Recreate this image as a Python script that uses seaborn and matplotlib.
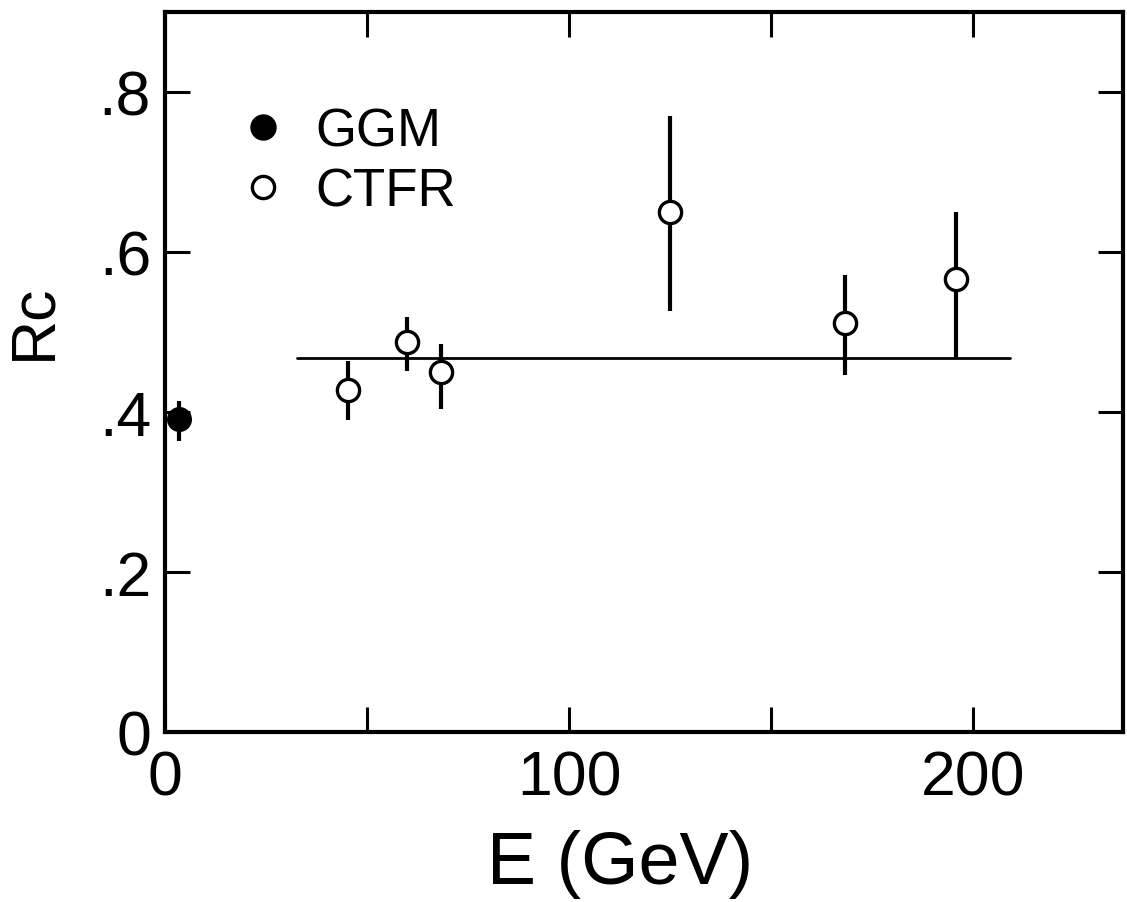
import numpy as np
import seaborn as sns
import matplotlib.pyplot as plt
from matplotlib.lines import Line2D

# GGM point
ggm_E = [3.5]
ggm_R = [0.391]
ggm_lo = [0.364]
ggm_hi = [0.414]

# CTFR points
ctfr_E = [45.3, 59.9, 68.3, 125.0, 168.3, 195.8]
ctfr_R = [0.428, 0.488, 0.450, 0.650, 0.511, 0.566]
ctfr_lo = [0.390, 0.451, 0.404, 0.526, 0.446, 0.468]
ctfr_hi = [0.464, 0.519, 0.485, 0.770, 0.571, 0.650]

# average line
fit_E = [32.7, 209.0]
fit_R = [0.468, 0.468]

xticks = [0, 50, 100, 150, 200]
xlabels = ['0', '', '100', '', '200']
yticks = [0, 0.2, 0.4, 0.6, 0.8]
ylabels = ['0', '.2', '.4', '.6', '.8']

sns.set_theme(style="ticks")
plt.rcParams['font.family'] = ['Liberation Sans', 'DejaVu Sans']
plt.rcParams['text.color'] = 'black'
plt.rcParams['axes.labelcolor'] = 'black'
plt.rcParams['xtick.labelcolor'] = 'black'
plt.rcParams['ytick.labelcolor'] = 'black'

fig = plt.figure(figsize=(11.27, 9.03), dpi=100)
ax = fig.add_axes([165 / 1127, 1 - 733 / 903, (1123 - 165) / 1127, (733 - 13) / 903])

# error bars
ax.vlines(ggm_E, ggm_lo, ggm_hi, color='black', lw=3, zorder=2)
ax.vlines(ctfr_E, ctfr_lo, ctfr_hi, color='black', lw=3, zorder=2)

# average line
sns.lineplot(x=fit_E, y=fit_R, color='black', lw=2, ax=ax, zorder=1)

# markers
sns.scatterplot(x=ggm_E, y=ggm_R, marker='o', s=16 ** 2, color='black',
                edgecolor='black', linewidth=2, ax=ax, zorder=3, clip_on=False)
sns.scatterplot(x=ctfr_E, y=ctfr_R, marker='o', s=16 ** 2, color='white',
                edgecolor='black', linewidth=2.4, ax=ax, zorder=3)

ax.set_xlim(0, 237)
ax.set_ylim(0, 0.9)
ax.set_xticks(xticks)
ax.set_xticklabels(xlabels)
ax.set_yticks(yticks)
ax.set_yticklabels(ylabels)

ax.tick_params(direction='in', length=18, width=2.2, labelsize=45,
               top=True, right=True, color='black')
ax.tick_params(axis='x', pad=12)
ax.tick_params(axis='y', pad=10)
for sp in ax.spines.values():
    sp.set_linewidth(3)
    sp.set_color('black')

ax.set_xlabel('E (GeV)', fontsize=53)
ax.set_ylabel('Rc', fontsize=45)
ax.xaxis.set_label_coords((620 - 165) / (1123 - 165), -(830 - 733) / 720)
ax.yaxis.set_label_coords(-(165 - 63) / (1123 - 165), (733 - 322) / 720)

handles = [
    Line2D([], [], marker='o', ls='none', color='black', markersize=18),
    Line2D([], [], marker='o', ls='none', color='black', markerfacecolor='white',
           markeredgewidth=2.4, markersize=16),
]
ax.legend(handles, ['GGM', 'CTFR'], loc='upper left', bbox_to_anchor=(0.025, 0.935),
          frameon=False, fontsize=38, handletextpad=0.5, labelspacing=0.2,
          handlelength=1.0)

fig.savefig('out.png', dpi=100)
